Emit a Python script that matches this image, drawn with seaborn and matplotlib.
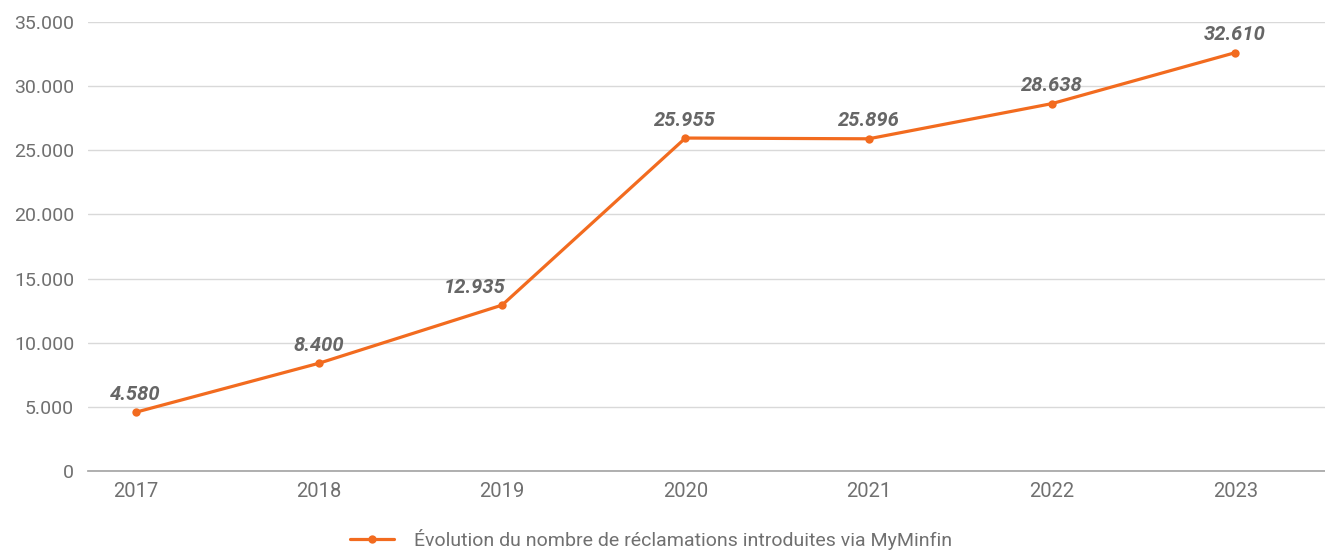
import numpy as np
import pandas as pd
import matplotlib
matplotlib.use("Agg")
import matplotlib.pyplot as plt
import seaborn as sns
from matplotlib.ticker import FuncFormatter

years = ["2017", "2018", "2019", "2020", "2021", "2022", "2023"]
reclamations = [4580, 8400, 12935, 25955, 25896, 28638, 32610]
series_name = "Évolution du nombre de réclamations introduites via MyMinfin"

sns.set_theme(style="white")
plt.rcParams["font.family"] = ["Roboto", "DejaVu Sans"]

orange = "#F26B1F"
grey = "#666666"

df = pd.DataFrame({"x": np.arange(len(years)), "value": reclamations})

fig = plt.figure(figsize=(13.25, 5.5), dpi=100)
ax = fig.add_axes([0.0664, 0.1436, 0.9336, 0.8164])

sns.lineplot(data=df, x="x", y="value", ax=ax, color=orange, linewidth=2.3,
             marker="o", markersize=6, markeredgewidth=0, label=series_name)

# the 2019 label sits a bit to the left so it clears the steep segment
label_dx = [0, 0, -20, 0, 0, 0, 0]
for xi, v, dx in zip(df["x"], df["value"], label_dx):
    ax.annotate(f"{v:,}".replace(",", "."), (xi, v), xytext=(dx, 6),
                textcoords="offset points", ha="center", va="bottom",
                fontsize=14.5, fontweight="bold", fontstyle="italic", color=grey)

ax.set_ylim(0, 35000)
ax.set_yticks(range(0, 35001, 5000))
ax.yaxis.set_major_formatter(FuncFormatter(lambda v, p: f"{int(v):,}".replace(",", ".")))
ax.set_xlim(-0.26, 6.49)
ax.set_xticks(df["x"])
ax.set_xticklabels(years)
ax.grid(axis="y", color="#d9d9d9", linewidth=1)
ax.set_axisbelow(True)
for s in ["top", "right", "left"]:
    ax.spines[s].set_visible(False)
ax.spines["bottom"].set_color("#a6a6a6")
ax.tick_params(axis="y", length=0, labelsize=14, labelcolor="#707070", pad=10)
ax.tick_params(axis="x", length=0, labelsize=14.5, labelcolor="#707070", pad=8)
ax.set_xlabel("")
ax.set_ylabel("")

leg = ax.legend(loc="center", bbox_to_anchor=(0.455, -0.152),
                frameon=False, fontsize=14, handlelength=2.3, handletextpad=1.0,
                borderaxespad=0, borderpad=0)
for t in leg.get_texts():
    t.set_color("#707070")

fig.savefig("out.png", dpi=100)
